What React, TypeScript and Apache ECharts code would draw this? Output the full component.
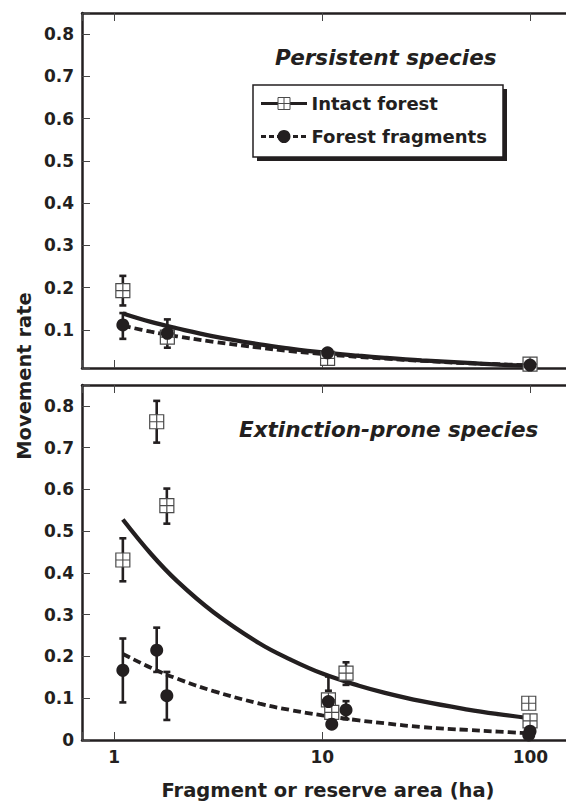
import React, { useEffect, useRef } from 'react';
import * as echarts from 'echarts';

// ---------- data ----------
const xTickLabels = [1, 10, 100];
const fitX = [1.1, 1.5, 2, 3, 5, 7, 10, 15, 20, 30, 50, 70, 100];

// Persistent species (top panel)
const persIntactPts = [[1.1, 0.193], [1.8, 0.083], [10.6, 0.033], [99.6, 0.019]];
const persFragPts = [[1.1, 0.112], [1.8, 0.092], [10.6, 0.046], [99.6, 0.017]];
const persErr = [[1.1, 0.158, 0.228], [1.1, 0.079, 0.14], [1.8, 0.058, 0.125]];
const persIntactFit = [0.139, 0.119, 0.104, 0.085, 0.066, 0.056, 0.047, 0.039, 0.034, 0.028, 0.022, 0.018, 0.015];
const persFragFit = [0.110, 0.096, 0.085, 0.072, 0.058, 0.050, 0.043, 0.036, 0.032, 0.027, 0.021, 0.019, 0.016];

// Extinction-prone species (bottom panel)
const extIntactPts = [[1.1, 0.431], [1.6, 0.762], [1.79, 0.561], [10.7, 0.096], [11.1, 0.066], [13.0, 0.160], [98.2, 0.088], [99.6, 0.046]];
const extFragPts = [[1.1, 0.167], [1.6, 0.215], [1.79, 0.106], [10.7, 0.092], [11.1, 0.038], [13.0, 0.072], [99.6, 0.021], [98.2, 0.012]];
const extErr = [[1.1, 0.38, 0.483], [1.6, 0.712, 0.812], [1.79, 0.518, 0.602], [1.1, 0.09, 0.243], [1.6, 0.163, 0.269], [1.79, 0.048, 0.163], [10.7, 0.118, 0.152], [13.0, 0.132, 0.186], [13.0, 0.05, 0.093]];
const extIntactFit = [0.528, 0.446, 0.381, 0.306, 0.231, 0.193, 0.159, 0.130, 0.113, 0.093, 0.073, 0.062, 0.052];
const extFragFit = [0.206, 0.173, 0.147, 0.117, 0.087, 0.072, 0.059, 0.047, 0.040, 0.031, 0.024, 0.020, 0.016];

const INK = '#231f20';
const FONT = 'DejaVu Sans';
const SQUARE = 'path://M0,0H12V12H0Z M6,0V12 M0,6H12';

export default function App() {
  const ref = useRef<HTMLDivElement>(null);

  useEffect(() => {
    document.body.style.margin = '0';
    if (!ref.current) return;
    const chart = echarts.init(ref.current, null, { renderer: 'svg' });

    const labelStyle = { fontFamily: FONT, fontWeight: 'bold' as const, fontSize: 17, color: INK };
    const axisLine = { show: true, onZero: false, lineStyle: { color: INK, width: 2.5 } };
    const axisTick = { show: true, inside: true, length: 8, lineStyle: { color: '#444', width: 1 } };

    const xAxisBase = (gridIndex: number, position: string, showLabel: boolean) => ({
      type: 'log',
      logBase: 10,
      gridIndex,
      position,
      min: 0.7,
      max: 155,
      axisLine,
      axisTick: {
        ...axisTick,
        interval: (i: number, v: any) => xTickLabels.some((t) => Math.abs(Number(v) - t) < 1e-6),
      },
      splitLine: { show: false },
      minorTick: { show: false },
      minorSplitLine: { show: false },
      axisLabel: {
        show: showLabel,
        margin: 8,
        ...labelStyle,
        formatter: (v: number) => (xTickLabels.some((t) => Math.abs(v - t) < 1e-6) ? String(Math.round(v)) : ''),
      },
    });

    const yFormatter = (v: number) => {
      const r = Math.round(v * 10) / 10;
      if (Math.abs(v - r) > 1e-6) return '';
      return r === 0 ? '0' : r.toFixed(1);
    };

    const fitData = (ys: number[]) => fitX.map((x, i) => [x, ys[i]]);

    const errSeries = (data: number[][], xi: number, yi: number) => ({
      type: 'custom',
      xAxisIndex: xi,
      yAxisIndex: yi,
      z: 3,
      encode: { x: 0, y: [1, 2] },
      data,
      renderItem: (params: any, api: any) => {
        const x = api.value(0);
        const lo = api.value(1);
        const hi = api.value(2);
        const p1 = api.coord([x, hi]);
        const p2 = api.coord([x, lo]);
        const cw = 3.5;
        const style = { stroke: INK, lineWidth: 2.6 };
        return {
          type: 'group',
          children: [
            { type: 'line', shape: { x1: p1[0], y1: p1[1], x2: p2[0], y2: p2[1] }, style },
            { type: 'line', shape: { x1: p1[0] - cw, y1: p1[1], x2: p1[0] + cw, y2: p1[1] }, style },
            { type: 'line', shape: { x1: p2[0] - cw, y1: p2[1], x2: p2[0] + cw, y2: p2[1] }, style },
          ],
        };
      },
    });

    const lineSeries = (name: string, ys: number[], dashed: boolean, xi: number, yi: number) => ({
      name,
      type: 'line',
      xAxisIndex: xi,
      yAxisIndex: yi,
      data: fitData(ys),
      smooth: 0.4,
      symbol: 'none',
      z: 2,
      lineStyle: dashed ? { color: INK, width: 3.8, type: [8, 4] } : { color: INK, width: 4.3 },
    });

    const squareSeries = (data: number[][], xi: number, yi: number) => ({
      type: 'scatter',
      xAxisIndex: xi,
      yAxisIndex: yi,
      data,
      symbol: SQUARE,
      symbolSize: 14,
      z: 4,
      itemStyle: { color: '#fff', borderColor: '#4a4a4a', borderWidth: 1.2, opacity: 1 },
    });

    const circleSeries = (data: number[][], xi: number, yi: number) => ({
      type: 'scatter',
      xAxisIndex: xi,
      yAxisIndex: yi,
      data,
      symbol: 'circle',
      symbolSize: 13,
      z: 5,
      itemStyle: { color: INK, opacity: 1 },
    });

    const txt = (text: string, x: number, y: number, size: number, align: string, italic = false, extra: any = {}) => ({
      type: 'text',
      x,
      y,
      ...extra,
      style: {
        text,
        fontFamily: FONT,
        fontWeight: 'bold',
        fontStyle: italic ? 'italic' : 'normal',
        fontSize: size,
        fill: INK,
        textAlign: align,
        textVerticalAlign: 'middle',
        align,
        verticalAlign: 'middle',
      },
    });

    const yAxisBase = (gridIndex: number, extra: any) => ({
      type: 'value',
      gridIndex,
      max: 0.85,
      axisLine,
      axisTick,
      splitLine: { show: false },
      axisLabel: { margin: 8, ...labelStyle, formatter: yFormatter },
      ...extra,
    });

    const option: any = {
      animation: false,
      backgroundColor: '#fff',
      grid: [
        { left: 82, right: -4, top: 13, height: 355, containLabel: false, outerBoundsMode: 'none' },
        { left: 82, right: -4, top: 385, height: 355, containLabel: false, outerBoundsMode: 'none' },
      ],
      xAxis: [
        xAxisBase(0, 'bottom', false),
        xAxisBase(0, 'top', false),
        xAxisBase(1, 'bottom', true),
        xAxisBase(1, 'top', false),
      ],
      yAxis: [
        yAxisBase(0, { min: 0.01, splitNumber: 8 }),
        yAxisBase(1, { min: 0, interval: 0.1 }),
      ],
      series: [
        lineSeries('Intact forest fit (persistent)', persIntactFit, false, 0, 0),
        lineSeries('Forest fragments fit (persistent)', persFragFit, true, 0, 0),
        errSeries(persErr, 0, 0),
        squareSeries(persIntactPts, 0, 0),
        circleSeries(persFragPts, 0, 0),
        lineSeries('Intact forest fit (extinction-prone)', extIntactFit, false, 2, 1),
        lineSeries('Forest fragments fit (extinction-prone)', extFragFit, true, 2, 1),
        errSeries(extErr, 2, 1),
        squareSeries(extIntactPts, 2, 1),
        circleSeries(extFragPts, 2, 1),
      ],
      graphic: [
        txt('Persistent species', 275, 57.5, 21.5, 'left', true),
        txt('Extinction-prone species', 239, 429, 21.5, 'left', true),
        // legend
        { type: 'rect', shape: { x: 257, y: 89, width: 250, height: 72 }, style: { fill: INK }, z: 10 },
        { type: 'rect', shape: { x: 253, y: 85, width: 250, height: 72 }, style: { fill: '#fff', stroke: INK, lineWidth: 1.5 }, z: 11 },
        { type: 'line', shape: { x1: 261, y1: 103.5, x2: 307, y2: 103.5 }, style: { stroke: INK, lineWidth: 3 }, z: 12 },
        { type: 'rect', shape: { x: 278, y: 97.5, width: 12, height: 12 }, style: { fill: '#fff', stroke: '#4a4a4a', lineWidth: 1 }, z: 13 },
        { type: 'line', shape: { x1: 284, y1: 97.5, x2: 284, y2: 109.5 }, style: { stroke: '#4a4a4a', lineWidth: 1 }, z: 14 },
        { type: 'line', shape: { x1: 278, y1: 103.5, x2: 290, y2: 103.5 }, style: { stroke: '#4a4a4a', lineWidth: 1 }, z: 14 },
        { type: 'line', shape: { x1: 261, y1: 136.5, x2: 307, y2: 136.5 }, style: { stroke: INK, lineWidth: 3, lineDash: [5, 3] }, z: 12 },
        { type: 'circle', shape: { cx: 284, cy: 136.5, r: 6.5 }, style: { fill: INK }, z: 13 },
        { ...txt('Intact forest', 311.5, 103.5, 18, 'left'), z: 14 },
        { ...txt('Forest fragments', 311.5, 136.5, 18, 'left'), z: 14 },
        // axis titles
        txt('Fragment or reserve area (ha)', 328, 790, 19.5, 'center'),
        txt('Movement rate', 24, 376, 19.5, 'center', false, { rotation: Math.PI / 2 }),
      ],
    };

    chart.setOption(option);
    return () => chart.dispose();
  }, []);

  return <div ref={ref} style={{ width: 566, height: 802, position: 'absolute', left: 0, top: 0 }} />;
}
